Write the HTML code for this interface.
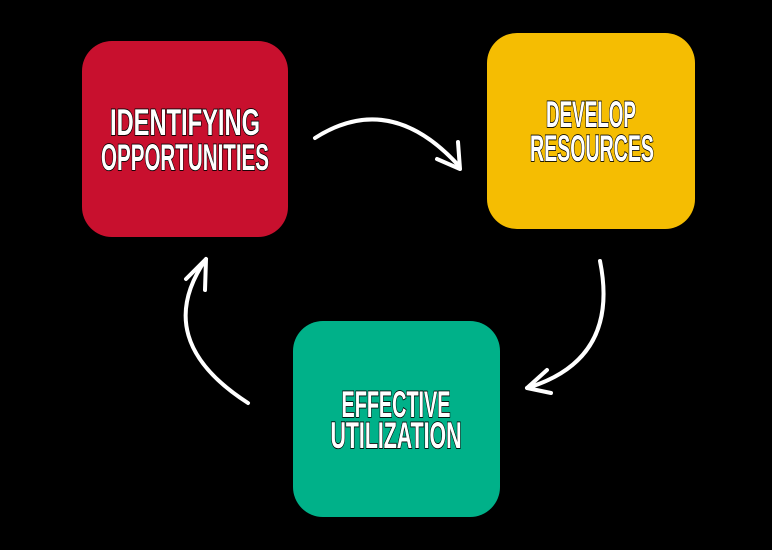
<!DOCTYPE html>
<html><head><style>
html,body{margin:0;padding:0;background:#000;}
svg{display:block}
text{font-family:"Liberation Sans Narrow","Liberation Sans",sans-serif;font-weight:bold;fill:#fff;stroke:#000;stroke-width:1.8;paint-order:stroke;}
</style></head><body>
<svg width="772" height="550" viewBox="0 0 772 550">
<rect width="772" height="550" fill="#000"/>
<rect x="82" y="41" width="206" height="196" rx="30" fill="#c8102e"/>
<rect x="487" y="33" width="208" height="196" rx="30" fill="#f5bd02"/>
<rect x="293" y="321" width="207" height="196" rx="30" fill="#00b189"/>
<g font-size="37">
<text x="185" y="135" text-anchor="middle" textLength="150" lengthAdjust="spacingAndGlyphs">IDENTIFYING</text>
<text x="185" y="170" text-anchor="middle" textLength="168" lengthAdjust="spacingAndGlyphs">OPPORTUNITIES</text>
<text x="591" y="127" text-anchor="middle" textLength="90" lengthAdjust="spacingAndGlyphs">DEVELOP</text>
<text x="592" y="161" text-anchor="middle" textLength="124" lengthAdjust="spacingAndGlyphs">RESOURCES</text>
<text x="396" y="417" text-anchor="middle" textLength="109" lengthAdjust="spacingAndGlyphs">EFFECTIVE</text>
<text x="396" y="448" text-anchor="middle" textLength="131" lengthAdjust="spacingAndGlyphs">UTILIZATION</text>
</g>
<g fill="none" stroke="#fff" stroke-width="4" stroke-linecap="round" stroke-linejoin="round">
<path d="M315 138 Q390 90 459 166"/>
<path d="M458 142 L460 169 L437 159"/>
<path d="M600 261 Q620 360 527 388"/>
<path d="M547 370 L527 388 L551 393"/>
<path d="M248 403 Q150 340 206 259"/>
<path d="M186 279 L206 259 L205 290"/>
</g>
</svg>
</body></html>
